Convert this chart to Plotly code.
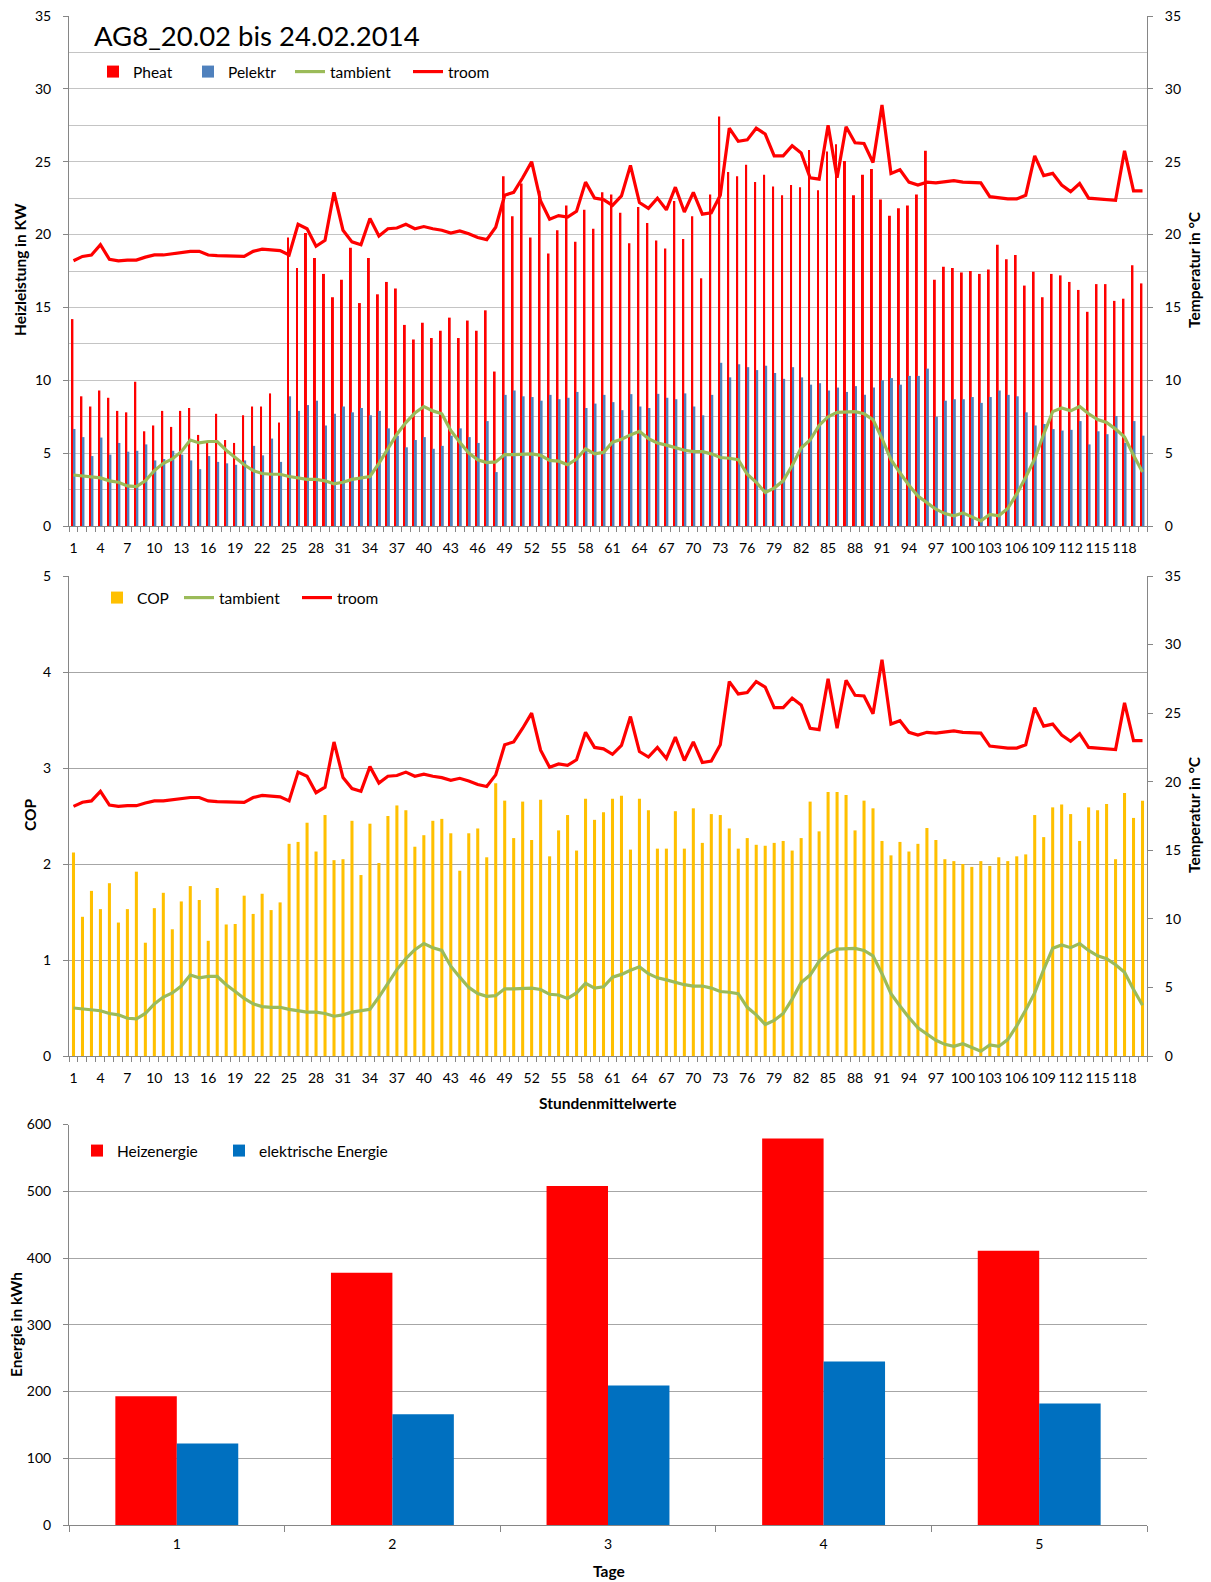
import plotly.graph_objects as go

# ---------------- data ----------------
hours = list(range(1, 121))
hour_tick_vals = list(range(1, 121, 3))
hour_tick_text = [str(v) for v in hour_tick_vals]

pheat = [14.2, 8.9, 8.2, 9.3, 8.8, 7.9, 7.8, 9.9, 6.5, 6.9,
         7.9, 6.8, 7.9, 8.1, 6.25, 5.7, 7.7, 5.9, 5.7, 7.6,
         8.2, 8.2, 9.1, 7.1, 19.8, 17.7, 20.1, 18.4, 17.3, 15.7,
         16.9, 19.1, 15.3, 18.4, 15.9, 16.75, 16.3, 13.8, 12.8, 13.95,
         12.9, 13.4, 14.3, 12.9, 14.1, 13.4, 14.8, 10.6, 24.0, 21.25,
         23.5, 19.8, 23.0, 18.7, 20.3, 22.0, 19.5, 21.7, 20.4, 22.9,
         22.75, 21.5, 19.4, 21.9, 20.8, 19.6, 19.05, 22.3, 19.7, 21.25,
         17.0, 22.75, 28.1, 24.3, 24.0, 24.8, 23.6, 24.1, 23.3, 22.7,
         23.4, 23.25, 25.8, 23.05, 25.7, 26.2, 25.05, 22.7, 24.1, 24.5,
         22.4, 21.3, 21.8, 22.0, 22.75, 25.75, 16.9, 17.8, 17.7, 17.4,
         17.5, 17.3, 17.6, 19.3, 18.3, 18.6, 16.5, 17.45, 15.7, 17.3,
         17.2, 16.75, 16.2, 14.7, 16.6, 16.6, 15.45, 15.6, 17.9, 16.65]

pelektr = [6.66, 6.1, 4.8, 6.07, 4.9, 5.7, 5.1, 5.16, 5.6, 4.5,
           4.6, 5.16, 4.9, 4.5, 3.9, 4.8, 4.4, 4.3, 4.2, 4.5,
           5.5, 4.85, 6.0, 4.4, 8.9, 7.9, 8.3, 8.6, 6.9, 7.7,
           8.2, 7.8, 8.1, 7.6, 7.9, 6.7, 6.2, 5.4, 5.9, 6.1,
           5.3, 5.5, 6.2, 6.7, 6.1, 5.7, 7.2, 3.7, 9.0, 9.3,
           8.9, 8.85, 8.6, 9.0, 8.7, 8.8, 9.2, 8.1, 8.4, 9.0,
           8.5, 7.95, 9.05, 8.2, 8.1, 9.07, 8.8, 8.7, 9.1, 8.2,
           7.6, 9.0, 11.2, 10.2, 11.1, 10.9, 10.7, 11.0, 10.5, 10.1,
           10.9, 10.2, 9.7, 9.8, 9.3, 9.5, 9.2, 9.6, 9.0, 9.5,
           10.0, 10.15, 9.7, 10.3, 10.3, 10.8, 7.5, 8.6, 8.7, 8.7,
           8.85, 8.45, 8.85, 9.3, 9.0, 8.9, 7.8, 6.9, 7.0, 6.65,
           6.55, 6.6, 7.2, 5.6, 6.5, 6.3, 7.55, 5.7, 7.2, 6.2]

tambient = [3.5, 3.45, 3.4, 3.3, 3.1, 3.0, 2.75, 2.7, 3.1, 3.8,
            4.3, 4.6, 5.1, 5.9, 5.7, 5.8, 5.8, 5.2, 4.7, 4.2,
            3.8, 3.6, 3.55, 3.55, 3.4, 3.3, 3.2, 3.2, 3.1, 2.9,
            3.0, 3.2, 3.3, 3.4, 4.3, 5.3, 6.3, 7.1, 7.75, 8.2,
            7.9, 7.7, 6.55, 5.75, 5.0, 4.55, 4.35, 4.4, 4.9, 4.9,
            4.9, 4.95, 4.85, 4.5, 4.45, 4.2, 4.6, 5.3, 4.95, 5.05,
            5.75, 5.95, 6.25, 6.5, 6.0, 5.7, 5.55, 5.35, 5.2, 5.1,
            5.1, 4.95, 4.7, 4.65, 4.55, 3.55, 3.0, 2.3, 2.6, 3.1,
            4.15, 5.35, 5.9, 6.9, 7.5, 7.8, 7.8, 7.85, 7.7, 7.3,
            6.0, 4.55, 3.65, 2.8, 2.05, 1.6, 1.15, 0.85, 0.7, 0.9,
            0.65, 0.35, 0.8, 0.7, 1.2, 2.2, 3.35, 4.6, 6.3, 7.85,
            8.1, 7.9, 8.2, 7.7, 7.3, 7.1, 6.65, 6.1, 4.85, 3.7]

troom = [18.2, 18.5, 18.6, 19.3, 18.3, 18.2, 18.25, 18.25, 18.45, 18.6,
         18.6, 18.7, 18.8, 18.85, 18.85, 18.6, 18.55, 18.55, 18.55, 18.5,
         18.85, 19.0, 18.95, 18.9, 18.6, 20.7, 20.4, 19.2, 19.6, 22.9,
         20.3, 19.5, 19.3, 21.1, 19.9, 20.4, 20.45, 20.7, 20.4, 20.55,
         20.4, 20.3, 20.1, 20.25, 20.05, 19.8, 19.65, 20.5, 22.7, 22.9,
         23.9, 25.0, 22.3, 21.05, 21.3, 21.2, 21.6, 23.6, 22.5, 22.4,
         22.0, 22.65, 24.75, 22.2, 21.8, 22.5, 21.7, 23.25, 21.55, 22.9,
         21.4, 21.5, 22.7, 27.3, 26.4, 26.5, 27.3, 26.9, 25.4, 25.4,
         26.1, 25.6, 23.9, 23.8, 27.5, 23.9, 27.4, 26.3, 26.25, 24.95,
         28.9, 24.2, 24.45, 23.6, 23.4, 23.6, 23.55, 23.6, 23.7, 23.6,
         23.6, 23.55, 22.6, 22.5, 22.45, 22.45, 22.7, 25.4, 24.05, 24.2,
         23.4, 22.95, 23.5, 22.5, 22.45, 22.4, 22.35, 25.75, 23.0, 23.0]

cop = [2.12, 1.45, 1.72, 1.53, 1.80, 1.39, 1.53, 1.92, 1.18, 1.54,
       1.70, 1.32, 1.61, 1.77, 1.625, 1.20, 1.75, 1.37, 1.375, 1.67,
       1.48, 1.69, 1.52, 1.60, 2.21, 2.23, 2.43, 2.13, 2.51, 2.04,
       2.05, 2.45, 1.885, 2.42, 2.01, 2.50, 2.61, 2.56, 2.18, 2.30,
       2.45, 2.47, 2.32, 1.93, 2.32, 2.37, 2.07, 2.84, 2.66, 2.27,
       2.65, 2.25, 2.67, 2.08, 2.35, 2.51, 2.14, 2.68, 2.46, 2.54,
       2.68, 2.71, 2.15, 2.68, 2.56, 2.16, 2.16, 2.55, 2.16, 2.58,
       2.22, 2.52, 2.51, 2.37, 2.16, 2.27, 2.20, 2.19, 2.22, 2.24,
       2.14, 2.27, 2.65, 2.34, 2.75, 2.75, 2.72, 2.35, 2.66, 2.58,
       2.24, 2.09, 2.23, 2.13, 2.21, 2.375, 2.25, 2.05, 2.03, 2.00,
       1.97, 2.03, 1.98, 2.07, 2.03, 2.08, 2.10, 2.51, 2.28, 2.59,
       2.62, 2.52, 2.24, 2.59, 2.56, 2.625, 2.05, 2.74, 2.48, 2.66]

tage = ["1", "2", "3", "4", "5"]
heizenergie = [193, 378, 508, 579, 411]
elektrische_energie = [122, 166, 209, 245, 182]

# ---------------- styling ----------------
FONT = "Lato"
RED = "#FF0000"
BLUE = "#4F81BD"
GREEN = "#9BBB59"
GOLD = "#FFC000"
BLUE2 = "#0070C0"
AXIS = "#868686"
GRID_TOP = "#C4C4C4"
GRID = "#A6A6A6"

fig = go.Figure()

# top chart
fig.add_trace(go.Bar(x=hours, y=pheat, name="Pheat", marker=dict(color=RED, line=dict(width=0)),
                     width=0.22, offset=-0.23, xaxis="x", yaxis="y", legend="legend", legendwidth=50))
fig.add_trace(go.Bar(x=hours, y=pelektr, name="Pelektr", marker=dict(color=BLUE, line=dict(width=0)),
                     width=0.22, offset=0.0, xaxis="x", yaxis="y", legend="legend", legendwidth=57))
fig.add_trace(go.Scatter(x=hours, y=tambient, name="tambient", mode="lines",
                         line=dict(color=GREEN, width=3.2), xaxis="x", yaxis="y2",
                         legend="legend", legendwidth=73))
fig.add_trace(go.Scatter(x=hours, y=troom, name="troom", mode="lines",
                         line=dict(color=RED, width=3.2), xaxis="x", yaxis="y2",
                         legend="legend", legendwidth=45))

# middle chart
fig.add_trace(go.Bar(x=hours, y=cop, name="COP", marker=dict(color=GOLD, line=dict(width=0)),
                     width=0.34, offset=-0.17, xaxis="x2", yaxis="y3", legend="legend2", legendwidth=37))
fig.add_trace(go.Scatter(x=hours, y=tambient, name="tambient", mode="lines",
                         line=dict(color=GREEN, width=3.2), xaxis="x2", yaxis="y4",
                         legend="legend2", legendwidth=73))
fig.add_trace(go.Scatter(x=hours, y=troom, name="troom", mode="lines",
                         line=dict(color=RED, width=3.2), xaxis="x2", yaxis="y4",
                         legend="legend2", legendwidth=45))

# bottom chart
fig.add_trace(go.Bar(x=tage, y=heizenergie, name="Heizenergie", marker=dict(color=RED, line=dict(width=0)),
                     width=0.285, offset=-0.285, xaxis="x3", yaxis="y5", legend="legend3", legendwidth=97))
fig.add_trace(go.Bar(x=tage, y=elektrische_energie, name="elektrische Energie",
                     marker=dict(color=BLUE2, line=dict(width=0)),
                     width=0.285, offset=0.0, xaxis="x3", yaxis="y5", legend="legend3", legendwidth=130))

W, H = 1211, 1582
ML, MR, MT, MB = 69, 64, 16, 57
PW = W - ML - MR
PH = H - MT - MB


def px_x(p):
    return (p - ML) / PW


def px_y(p):
    return (H - MB - p) / PH


tickfont = dict(family=FONT, size=14, color="black")


def hour_xaxis(anchor):
    return dict(
        domain=[0, 1], anchor=anchor, range=[0.5, 120.5], type="linear",
        tickmode="array", tickvals=hour_tick_vals, ticktext=hour_tick_text,
        ticks="outside", ticklen=5, tickcolor="rgba(0,0,0,0)",
        showline=True, linecolor=AXIS, linewidth=1, showgrid=False, zeroline=False,
        tickfont=tickfont, ticklabelstandoff=4,
        minor=dict(tickmode="array", tickvals=[h - 0.5 for h in hours] + [120.5],
                   ticks="outside", ticklen=5, tickcolor=AXIS, tickwidth=1, showgrid=False),
    )


top_dom = [px_y(526), 1.0]
mid_dom = [px_y(1056), px_y(576)]
bot_dom = [0.0, px_y(1124.5)]

legend_font = dict(family=FONT, size=15.5, color="black")

fig.update_layout(
    width=W, height=H,
    margin=dict(l=ML, r=MR, t=MT, b=MB, autoexpand=False),
    paper_bgcolor="white", plot_bgcolor="white",
    font=dict(family=FONT, size=14, color="black"),
    barmode="overlay",
    xaxis=hour_xaxis("y"),
    yaxis=dict(domain=top_dom, anchor="x", range=[0, 35], tick0=0, dtick=5,
               showgrid=True, gridcolor=GRID_TOP, gridwidth=1,
               minor=dict(tick0=0, dtick=2.5, showgrid=True, gridcolor=GRID_TOP, gridwidth=1, ticks=""),
               ticks="outside", ticklen=5, tickcolor=AXIS, showline=True, linecolor=AXIS,
               zeroline=False, tickfont=tickfont, ticklabelstandoff=9),
    yaxis2=dict(overlaying="y", side="right", anchor="x", range=[0, 35], tick0=0, dtick=5,
                showgrid=False, ticks="outside", ticklen=5, tickcolor=AXIS, showline=True,
                linecolor=AXIS, zeroline=False, tickfont=tickfont, ticklabelstandoff=9),
    xaxis2=hour_xaxis("y3"),
    yaxis3=dict(domain=mid_dom, anchor="x2", range=[0, 5], tick0=0, dtick=1,
                showgrid=True, gridcolor=GRID, gridwidth=1,
                ticks="outside", ticklen=5, tickcolor=AXIS, showline=True, linecolor=AXIS,
                zeroline=False, tickfont=tickfont, ticklabelstandoff=9),
    yaxis4=dict(overlaying="y3", side="right", anchor="x2", range=[0, 35], tick0=0, dtick=5,
                showgrid=False, ticks="outside", ticklen=5, tickcolor=AXIS, showline=True,
                linecolor=AXIS, zeroline=False, tickfont=tickfont, ticklabelstandoff=9),
    xaxis3=dict(domain=[0, 1], anchor="y5", type="category", range=[-0.5, 4.5],
                tickson="boundaries", ticks="outside", ticklen=6, tickcolor=AXIS,
                showline=True, linecolor=AXIS, showgrid=False, tickfont=tickfont,
                ticklabelstandoff=6),
    yaxis5=dict(domain=bot_dom, anchor="x3", range=[0, 600], tick0=0, dtick=100,
                showgrid=True, gridcolor=GRID, gridwidth=1,
                ticks="outside", ticklen=5, tickcolor=AXIS, showline=True, linecolor=AXIS,
                zeroline=False, tickfont=tickfont, ticklabelstandoff=9),
    legend=dict(orientation="h", x=px_x(93), y=px_y(72), xanchor="left", yanchor="middle",
                bgcolor="rgba(0,0,0,0)", font=legend_font,
                traceorder="normal", itemclick=False, itemdoubleclick=False),
    legend2=dict(orientation="h", x=px_x(97), y=px_y(598), xanchor="left", yanchor="middle",
                 bgcolor="rgba(0,0,0,0)", font=legend_font,
                 traceorder="normal", itemclick=False, itemdoubleclick=False),
    legend3=dict(orientation="h", x=px_x(77), y=px_y(1151), xanchor="left", yanchor="middle",
                 bgcolor="rgba(0,0,0,0)", font=legend_font,
                 traceorder="normal", itemclick=False, itemdoubleclick=False),
    showlegend=True,
)

title_font = dict(family=FONT, size=15.5, color="black")
ann = [
    dict(text="AG8_20.02 bis 24.02.2014", x=px_x(92), y=px_y(36), xanchor="left", yanchor="middle",
         font=dict(family=FONT, size=27.5, color="black")),
    dict(text="<b>Heizleistung in KW</b>", x=px_x(20), y=px_y(270), textangle=-90, font=title_font),
    dict(text="<b>Temperatur in °C</b>", x=px_x(1194), y=px_y(270), textangle=-90, font=title_font),
    dict(text="<b>COP</b>", x=px_x(30), y=px_y(815), textangle=-90, font=title_font),
    dict(text="<b>Temperatur in °C</b>", x=px_x(1194), y=px_y(815), textangle=-90, font=title_font),
    dict(text="<b>Stundenmittelwerte</b>", x=px_x(607), y=px_y(1103), font=title_font),
    dict(text="<b>Energie in kWh</b>", x=px_x(16), y=px_y(1325), textangle=-90, font=title_font),
    dict(text="<b>Tage</b>", x=px_x(609), y=px_y(1571), font=title_font),
]
for a in ann:
    a.setdefault("xanchor", "center")
    a.setdefault("yanchor", "middle")
    a.update(xref="paper", yref="paper", showarrow=False)
fig.update_layout(annotations=ann)

fig.write_html(
    "out.html",
    config={"displayModeBar": False},
    post_script="document.body.style.margin='0px';document.body.style.overflow='hidden';",
)
